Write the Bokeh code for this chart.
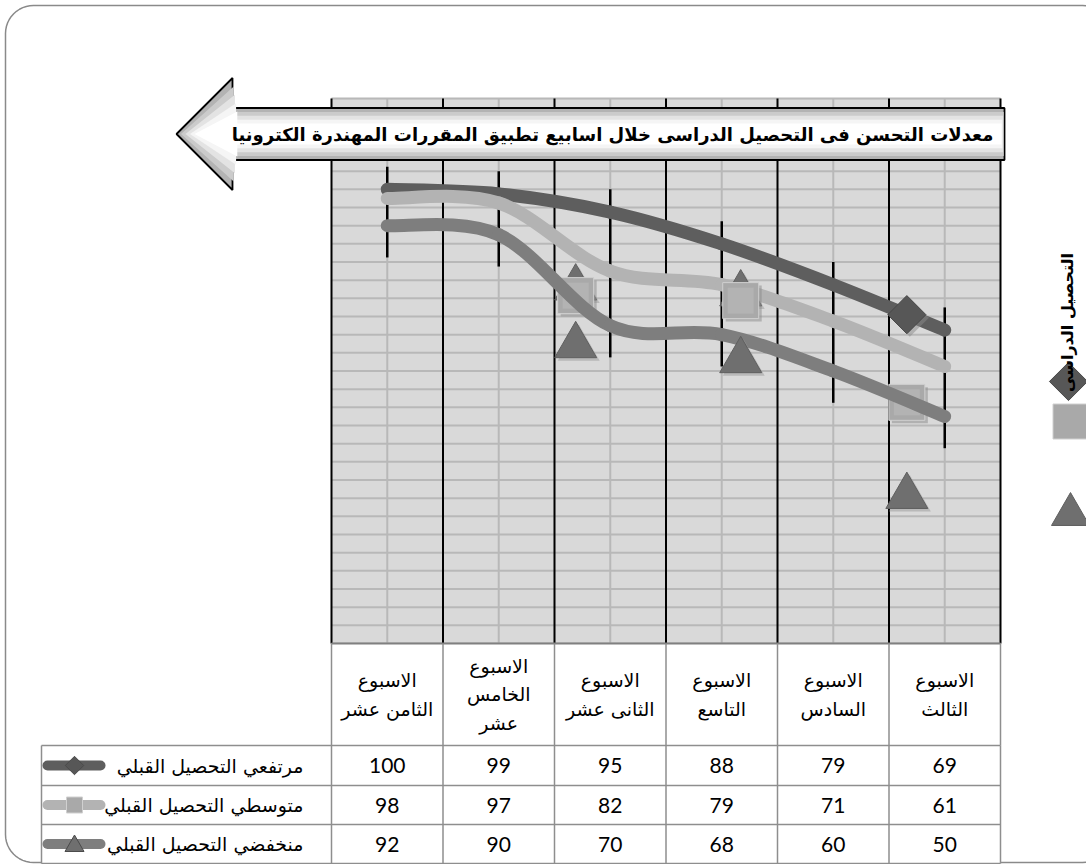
import math
from bokeh.plotting import figure
from bokeh.models import Range1d
from bokeh.core.properties import value
from bokeh.embed import file_html
from bokeh.resources import INLINE

# ---------------- data ----------------
weeks = ["الاسبوع\nالثامن عشر", "الاسبوع\nالخامس\nعشر", "الاسبوع\nالثانى عشر",
         "الاسبوع\nالتاسع", "الاسبوع\nالسادس", "الاسبوع\nالثالث"]
series_names = ["مرتفعي التحصيل القبلي", "متوسطي التحصيل القبلي", "منخفضي التحصيل القبلي"]
high = [100, 99, 95, 88, 79, 69]
mid = [98, 97, 82, 79, 71, 61]
low = [92, 90, 70, 68, 60, 50]
# black vertical bars drawn at each week
bar_top = [105, 104, 100, 93, 84, 74]
bar_bottom = [85, 83, 63, 61, 53, 43]
# picture markers as they sit in the picture (category position, value)
mk_high_x = [4.66]
mk_high_v = [72.4]
mk_mid_x = [1.69, 3.17, 4.66]
mk_mid_v = [76.6, 75.5, 53.1]
mk_low_back_x = [1.69, 3.17]
mk_low_back_v = [78.3, 77.0]
mk_low_x = [1.69, 3.17, 4.66]
mk_low_v = [65.6, 62.3, 32.4]
y_ticks = list(range(0, 121, 4))
title = "معدلات التحسن فى التحصيل الدراسى خلال اسابيع تطبيق المقررات المهندرة الكترونيا"
axis_title = "التحصيل الدراسى"

# ---------------- layout ----------------
W, H = 1086, 864
PL, PR, PT, PB = 331, 1000, 98, 643
YMAX = 120
n = len(high)
cw = (PR - PL) / n
sy = (PB - PT) / YMAX


def X(px):
    return -0.5 + (px - PL) / cw


def Y(py):
    return (PB - py) / sy


p = figure(width=W, height=H, x_range=Range1d(X(0), X(W)), y_range=Range1d(Y(H), Y(0)),
           output_backend="svg", toolbar_location=None, min_border=0,
           x_axis_location=None, y_axis_location=None)
p.grid.visible = False
p.outline_line_color = None
p.background_fill_color = "white"
p.border_fill_color = "white"

AR = value("DejaVu Sans")
NUM = value("Lato")

# outer rounded border
R = 28
bx0, by0, bx1, by1 = 5, 5, 1110, 862
pts = []
for cx, cy, a0 in [(bx1 - R, by0 + R, -90), (bx1 - R, by1 - R, 0), (bx0 + R, by1 - R, 90), (bx0 + R, by0 + R, 180)]:
    for k in range(13):
        a = math.radians(a0 + 90 * k / 12)
        pts.append((cx + R * math.cos(a), cy + R * math.sin(a)))
p.patch([X(a) for a, b in pts], [Y(b) for a, b in pts], fill_color="white",
        line_color="#8a8a8a", line_width=1.5)

# plot area
xs = list(range(n))
p.quad(left=-0.5, right=n - 0.5, bottom=0, top=YMAX, fill_color="#d9d9d9", line_color=None)
p.segment(x0=[-0.5] * len(y_ticks), x1=[n - 0.5] * len(y_ticks), y0=y_ticks, y1=y_ticks,
          line_color="#b8b8b8", line_width=2)
p.segment(x0=xs, x1=xs, y0=[0] * n, y1=[YMAX] * n, line_color="#b8b8b8", line_width=2)
bounds = [i - 0.5 for i in range(n + 1)]
p.segment(x0=bounds, x1=bounds, y0=[0] * (n + 1), y1=[YMAX] * (n + 1), line_color="black", line_width=2)

# black bars
p.segment(x0=xs, x1=xs, y0=bar_bottom, y1=bar_top, line_color="black", line_width=2.5)


def smooth(vals):
    x0, y0, x1, y1, c0x, c0y, c1x, c1y = [], [], [], [], [], [], [], []
    m = len(vals)
    for i in range(m - 1):
        pm = max(i - 1, 0)
        pn = min(i + 2, m - 1)
        x0.append(i); y0.append(vals[i]); x1.append(i + 1); y1.append(vals[i + 1])
        c0x.append(i + (i + 1 - pm) / 6); c0y.append(vals[i] + (vals[i + 1] - vals[pm]) / 6)
        c1x.append(i + 1 - (pn - i) / 6); c1y.append(vals[i + 1] - (vals[pn] - vals[i]) / 6)
    return dict(x0=x0, y0=y0, x1=x1, y1=y1, cx0=c0x, cy0=c0y, cx1=c1x, cy1=c1y)


colors = ["#5e5e5e", "#b3b3b3", "#7e7e7e"]

for vals, col in [(high, colors[0]), (mid, colors[1])]:
    p.bezier(**smooth(vals), line_color=col, line_width=13, line_cap="round")

sh = 3 / cw
shy = 3 / sy
# marker shadows + markers
p.scatter([x + sh for x in mk_low_back_x], [v - shy for v in mk_low_back_v], marker="triangle",
          size=42, fill_color="#9a9a9a", fill_alpha=0.5, line_color=None)
p.scatter(mk_low_back_x, mk_low_back_v, marker="triangle", size=42, fill_color="#6f6f6f", line_color="#5f5f5f")
p.scatter([x + sh for x in mk_mid_x], [v - shy for v in mk_mid_v], marker="square",
          size=36, fill_color="#8a8a8a", fill_alpha=0.5, line_color=None)
p.scatter(mk_mid_x, mk_mid_v, marker="square", size=36, fill_color="#a9a9a9", line_color="#d0d0d0")
p.scatter(mk_mid_x, mk_mid_v, marker="square", size=26, fill_color="#b3b3b3", line_color=None)
p.scatter([x + sh for x in mk_high_x], [v - shy for v in mk_high_v], marker="square", angle=math.pi / 4,
          size=27, fill_color="#8a8a8a", fill_alpha=0.5, line_color=None)
p.scatter(mk_high_x, mk_high_v, marker="square", angle=math.pi / 4, size=27,
          fill_color="#575757", line_color="#484848")

p.bezier(**smooth(low), line_color=colors[2], line_width=13, line_cap="round")

p.scatter([x + sh for x in mk_low_x], [v - shy for v in mk_low_v], marker="triangle",
          size=42, fill_color="#9a9a9a", fill_alpha=0.5, line_color=None)
p.scatter(mk_low_x, mk_low_v, marker="triangle", size=42, fill_color="#6f6f6f", line_color="#5f5f5f")

# ---------------- title arrow ----------------
cy = 133.5
for f, col in [(1.0, "#b3b3b3"), (0.85, "#cbcbcb"), (0.7, "#e3e3e3"), (0.55, "#f5f5f5"), (0.4, "#ffffff")]:
    tip = 176 + 30 * (1 - f)
    hb = 232 + 8 * (1 - f)
    re = 1004 - 5 * (1 - f)
    hh, bh = 56 * f, 26 * f
    poly = [(tip, cy), (hb, cy - hh), (hb, cy - bh), (re, cy - bh), (re, cy + bh), (hb, cy + bh), (hb, cy + hh)]
    p.patch([X(a) for a, b in poly], [Y(b) for a, b in poly], fill_color=col,
            line_color="black" if f == 1.0 else None, line_width=1.8)
p.text(x=[X(612)], y=[Y(cy)], text=[title], text_font=AR, text_font_style="bold",
       text_font_size="18px", text_align="center", text_baseline="middle", text_color="black")

# ---------------- right side axis title / legend ----------------
p.scatter([X(1068)], [Y(381)], marker="square", angle=math.pi / 4, size=27, fill_color="#575757", line_color="#484848")
p.scatter([X(1070)], [Y(421)], marker="square", size=35, fill_color="#a9a9a9", line_color="#d0d0d0")
p.scatter([X(1070)], [Y(514)], marker="triangle", size=38, fill_color="#6f6f6f", line_color="#5f5f5f")
p.text(x=[X(1067)], y=[Y(322)], text=[axis_title], angle=math.pi / 2, text_font=AR, text_font_style="bold",
       text_font_size="16px", text_align="center", text_baseline="middle", text_color="black")

# ---------------- data table ----------------
HB = 745
rows = [745, 785, 824, 863]
TC = "#8e8e8e"
p.quad(left=X(PL), right=X(PR), bottom=Y(HB), top=Y(PB), fill_color="white", line_color=None)
p.quad(left=X(41), right=X(PR), bottom=Y(rows[-1]), top=Y(HB), fill_color="white", line_color=None)
# header
p.segment(x0=[X(PL)], x1=[X(PR)], y0=[Y(PB)], y1=[Y(PB)], line_color="#808080", line_width=2)
p.segment(x0=bounds, x1=bounds, y0=[Y(PB)] * (n + 1), y1=[Y(HB)] * (n + 1), line_color=TC, line_width=1.5)
p.text(x=xs, y=[Y((PB + HB) / 2)] * n, text=weeks, text_font=AR, text_font_size="19px",
       text_align="center", text_baseline="middle", text_line_height=1.3, text_color="black")
# rows
p.segment(x0=[X(41)] * len(rows), x1=[X(PR)] * len(rows), y0=[Y(r) for r in rows], y1=[Y(r) for r in rows],
          line_color=TC, line_width=1.5)
vx = [X(41)] + bounds
p.segment(x0=vx, x1=vx, y0=[Y(rows[0])] * len(vx), y1=[Y(rows[-1])] * len(vx), line_color=TC, line_width=1.5)
markers = [("square", math.pi / 4, 13), ("square", 0, 16), ("triangle", 0, 19)]
fills = ["#575757", "#a9a9a9", "#6f6f6f"]
for k, vals in enumerate([high, mid, low]):
    yc = (rows[k] + rows[k + 1]) / 2
    p.text(x=xs, y=[Y(yc)] * n, text=[str(v) for v in vals], text_font=NUM, text_font_size="21px",
           text_align="center", text_baseline="middle", text_color="black")
    p.text(x=[X(303)], y=[Y(yc)], text=[series_names[k]], text_font=AR, text_font_size="19px",
           text_align="right", text_baseline="middle", text_color="black")
    p.segment(x0=[X(47)], x1=[X(100)], y0=[Y(yc)], y1=[Y(yc)], line_color=colors[k], line_width=10, line_cap="round")
    mk, ang, sz = markers[k]
    p.scatter([X(74)], [Y(yc + (2 if mk == "triangle" else 0))], marker=mk, angle=ang, size=sz,
              fill_color=fills[k], line_color="#4a4a4a" if k != 1 else "#d0d0d0")

open("out.html", "w").write(file_html(p, INLINE))
